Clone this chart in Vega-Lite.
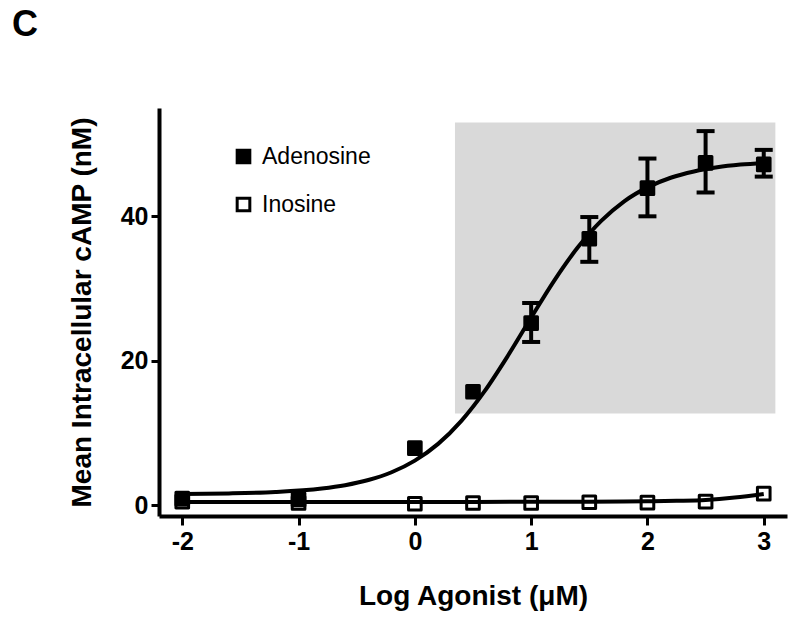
{
  "$schema": "https://vega.github.io/schema/vega-lite/v6.json",
  "width": 628,
  "height": 408,
  "autosize": {"type": "none"},
  "padding": {"left": 159, "top": 108, "right": 13, "bottom": 109},
  "background": "white",
  "config": {
    "font": "Liberation Sans",
    "view": {"stroke": null}
  },
  "title": {
    "text": "C",
    "anchor": "start",
    "frame": "group",
    "dx": -147,
    "offset": 36,
    "baseline": "alphabetic",
    "fontSize": 36,
    "fontWeight": "bold",
    "color": "black",
    "font": "Liberation Sans"
  },
  "datasets": {
    "shade": [{"x": 0.345, "xe": 3.1, "y": 12.7, "ye": 53.0}],
    "curve": [
      {"series": "Adenosine", "x": -2.0, "y": 1.55},
      {"series": "Adenosine", "x": -1.6, "y": 1.63},
      {"series": "Adenosine", "x": -1.2, "y": 1.83},
      {"series": "Adenosine", "x": -0.8, "y": 2.31},
      {"series": "Adenosine", "x": -0.6, "y": 2.77},
      {"series": "Adenosine", "x": -0.4, "y": 3.48},
      {"series": "Adenosine", "x": -0.2, "y": 4.56},
      {"series": "Adenosine", "x": 0.0, "y": 6.17},
      {"series": "Adenosine", "x": 0.2, "y": 8.49},
      {"series": "Adenosine", "x": 0.4, "y": 11.68},
      {"series": "Adenosine", "x": 0.6, "y": 15.79},
      {"series": "Adenosine", "x": 0.8, "y": 20.69},
      {"series": "Adenosine", "x": 1.0, "y": 25.98},
      {"series": "Adenosine", "x": 1.2, "y": 31.14},
      {"series": "Adenosine", "x": 1.4, "y": 35.67},
      {"series": "Adenosine", "x": 1.6, "y": 39.33},
      {"series": "Adenosine", "x": 1.8, "y": 42.08},
      {"series": "Adenosine", "x": 2.0, "y": 44.01},
      {"series": "Adenosine", "x": 2.2, "y": 45.34},
      {"series": "Adenosine", "x": 2.4, "y": 46.21},
      {"series": "Adenosine", "x": 2.6, "y": 46.79},
      {"series": "Adenosine", "x": 2.8, "y": 47.16},
      {"series": "Adenosine", "x": 3.0, "y": 47.39},
      {"series": "Inosine", "x": -2.0, "y": 0.45},
      {"series": "Inosine", "x": -1.0, "y": 0.45},
      {"series": "Inosine", "x": 0.0, "y": 0.45},
      {"series": "Inosine", "x": 1.0, "y": 0.46},
      {"series": "Inosine", "x": 1.5, "y": 0.48},
      {"series": "Inosine", "x": 2.0, "y": 0.53},
      {"series": "Inosine", "x": 2.25, "y": 0.6},
      {"series": "Inosine", "x": 2.5, "y": 0.72},
      {"series": "Inosine", "x": 2.75, "y": 1.05},
      {"series": "Inosine", "x": 3.0, "y": 1.55}
    ],
    "points": [
      {"series": "Adenosine", "x": -2, "y": 0.9},
      {"series": "Adenosine", "x": -1, "y": 0.8},
      {"series": "Adenosine", "x": 0, "y": 7.9},
      {"series": "Adenosine", "x": 0.5, "y": 15.7},
      {"series": "Adenosine", "x": 1, "y": 25.2, "lo": 22.6, "hi": 28.0},
      {"series": "Adenosine", "x": 1.5, "y": 36.9, "lo": 33.7, "hi": 39.9},
      {"series": "Adenosine", "x": 2, "y": 43.9, "lo": 40.0, "hi": 48.0},
      {"series": "Adenosine", "x": 2.5, "y": 47.4, "lo": 43.3, "hi": 51.8},
      {"series": "Adenosine", "x": 3, "y": 47.2, "lo": 45.5, "hi": 49.2},
      {"series": "Inosine", "x": -2, "y": 0.5},
      {"series": "Inosine", "x": -1, "y": 0.3},
      {"series": "Inosine", "x": 0, "y": 0.2},
      {"series": "Inosine", "x": 0.5, "y": 0.3},
      {"series": "Inosine", "x": 1, "y": 0.3},
      {"series": "Inosine", "x": 1.5, "y": 0.4},
      {"series": "Inosine", "x": 2, "y": 0.35},
      {"series": "Inosine", "x": 2.5, "y": 0.5},
      {"series": "Inosine", "x": 3, "y": 1.6}
    ]
  },
  "encoding": {
    "x": {
      "field": "x",
      "type": "quantitative",
      "scale": {"domain": [-2.2, 3.2], "nice": false, "zero": false},
      "axis": {
        "title": "Log Agonist (μM)",
        "values": [-2, -1, 0, 1, 2, 3],
        "labelExpr": "'' + datum.value",
        "grid": false,
        "domainColor": "black",
        "domainWidth": 4,
        "tickColor": "black",
        "tickWidth": 3,
        "tickSize": 9,
        "labelFontSize": 25,
        "labelFontWeight": "bold",
        "labelColor": "black",
        "labelPadding": 4,
        "titleFontSize": 28,
        "titleFontWeight": "bold",
        "titleColor": "black",
        "titlePadding": 28
      }
    },
    "y": {
      "field": "y",
      "type": "quantitative",
      "title": "Mean Intracellular cAMP (nM)",
      "scale": {"domain": [-1.5, 55], "nice": false, "zero": false},
      "axis": {
        "values": [0, 20, 40],
        "grid": false,
        "domainColor": "black",
        "domainWidth": 4,
        "tickColor": "black",
        "tickWidth": 3,
        "tickSize": 8,
        "labelFontSize": 25,
        "labelFontWeight": "bold",
        "labelColor": "black",
        "labelPadding": 3,
        "titleFontSize": 28,
        "titleFontWeight": "bold",
        "titleColor": "black",
        "titlePadding": 24
      }
    }
  },
  "layer": [
    {
      "data": {"name": "shade"},
      "mark": {"type": "rect", "color": "#d9d9d9"},
      "encoding": {
        "x2": {"field": "xe"},
        "y2": {"field": "ye"}
      }
    },
    {
      "data": {"name": "curve"},
      "mark": {"type": "line", "color": "black", "strokeWidth": 4, "interpolate": "monotone"},
      "encoding": {
        "detail": {"field": "series"}
      }
    },
    {
      "data": {"name": "points"},
      "transform": [{"filter": "isValid(datum.lo)"}],
      "mark": {"type": "rule", "color": "black", "strokeWidth": 4, "opacity": 1},
      "encoding": {
        "y": {"field": "lo", "type": "quantitative", "title": "Mean Intracellular cAMP (nM)"},
        "y2": {"field": "hi"}
      }
    },
    {
      "data": {"name": "points"},
      "transform": [{"filter": "isValid(datum.lo)"}],
      "mark": {"type": "tick", "orient": "horizontal", "color": "black", "thickness": 4, "size": 18, "opacity": 1},
      "encoding": {
        "y": {"field": "lo", "type": "quantitative", "title": "Mean Intracellular cAMP (nM)"}
      }
    },
    {
      "data": {"name": "points"},
      "transform": [{"filter": "isValid(datum.hi)"}],
      "mark": {"type": "tick", "orient": "horizontal", "color": "black", "thickness": 4, "size": 18, "opacity": 1},
      "encoding": {
        "y": {"field": "hi", "type": "quantitative", "title": "Mean Intracellular cAMP (nM)"}
      }
    },
    {
      "data": {"name": "points"},
      "mark": {"type": "point", "shape": "square", "stroke": "black", "strokeWidth": 3, "size": 160, "opacity": 1, "strokeJoin": "round"},
      "encoding": {
        "fill": {
          "field": "series",
          "type": "nominal",
          "scale": {"domain": ["Adenosine", "Inosine"], "range": ["black", "transparent"]},
          "legend": {
            "orient": "none",
            "legendX": 73,
            "legendY": 37,
            "title": null,
            "labelFontSize": 23,
            "labelColor": "black",
            "labelFont": "Liberation Sans",
            "labelOffset": 7,
            "symbolType": "square",
            "symbolSize": 160,
            "symbolStrokeWidth": 3,
            "symbolStrokeColor": "black",
            "rowPadding": 23
          }
        }
      }
    }
  ]
}
